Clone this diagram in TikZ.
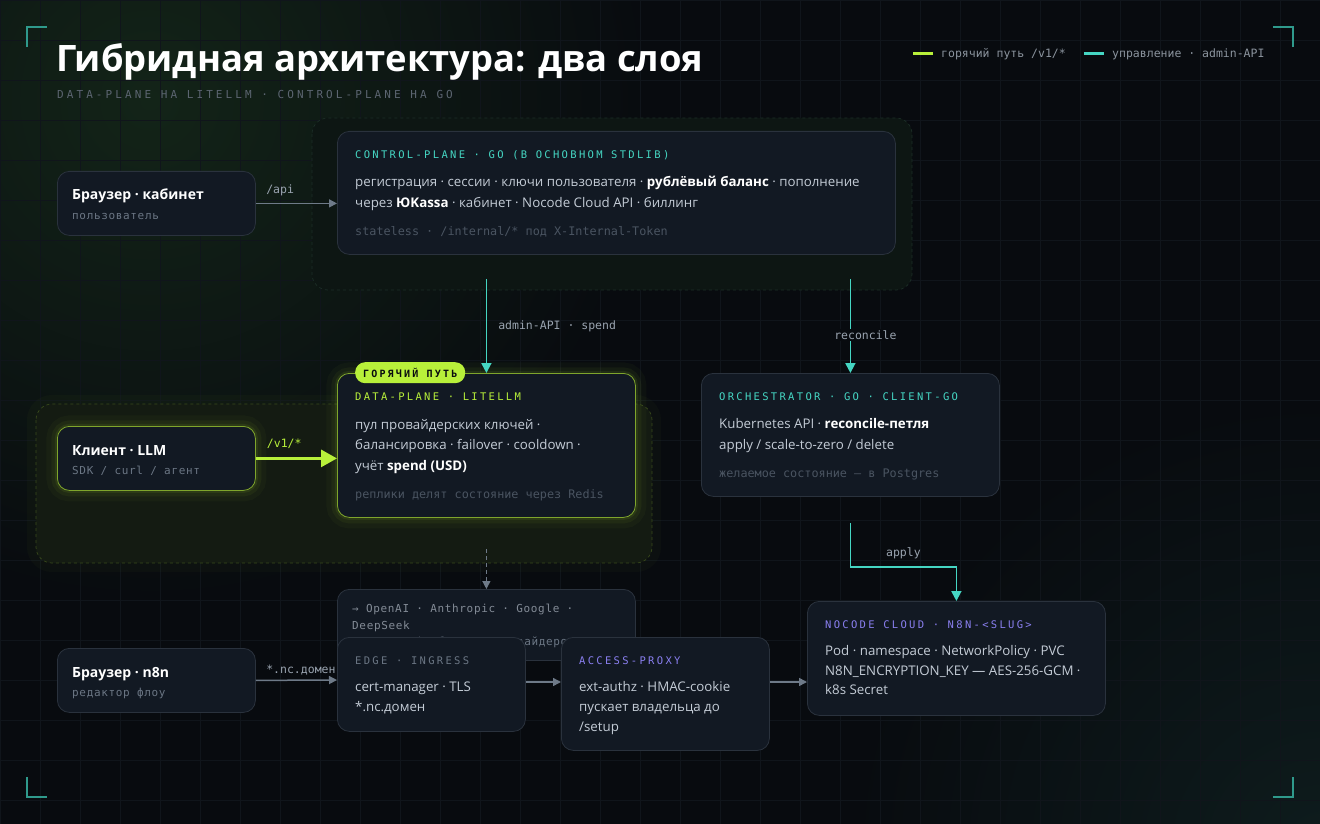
\documentclass[tikz,border=0pt]{standalone}
\usepackage{fontspec}
\setmainfont{Open Sans}
\newfontfamily\monof{DejaVu Sans Mono}
\newfontfamily\monotr{DejaVu Sans Mono}[LetterSpace=22]
\newfontfamily\monosub{DejaVu Sans Mono}[LetterSpace=28]
\newfontfamily\monowide{DejaVu Sans Mono}[LetterSpace=6]
\usetikzlibrary{arrows.meta,calc,positioning}

\definecolor{bgc}{HTML}{080B0F}
\definecolor{gridc}{HTML}{10151B}
\definecolor{glowa}{HTML}{132418}
\definecolor{glowb}{HTML}{0E1C1D}
\definecolor{boxfill}{HTML}{121923}
\definecolor{boxline}{HTML}{2A323D}
\definecolor{tealc}{HTML}{45D6C3}
\definecolor{tealdim}{HTML}{2F9A8C}
\definecolor{limec}{HTML}{B8F03A}
\definecolor{limedim}{HTML}{7FA52C}
\definecolor{purp}{HTML}{8A7FF0}
\definecolor{bodyc}{HTML}{C4CCD6}
\definecolor{mutec}{HTML}{6B7684}
\definecolor{faintc}{HTML}{4A5461}
\definecolor{lblc}{HTML}{9AA4B0}
\definecolor{arrowc}{HTML}{6E7A88}
\definecolor{cpgrp}{HTML}{0D1613}
\definecolor{cpedge}{HTML}{1C2E27}

\tikzset{
  box/.style={draw=boxline, fill=boxfill, rounded corners=12pt, line width=0.8pt,
    anchor=north west, inner sep=0pt},
  txt/.style={anchor=base west, inner sep=0pt, text=bodyc,
    font=\fontsize{13.3}{16}\selectfont},
  ttl/.style={anchor=base west, inner sep=0pt, text=white,
    font=\fontsize{14}{16}\selectfont\bfseries},
  hdr/.style={anchor=base west, inner sep=0pt, font=\monotr\fontsize{10.5}{12}\selectfont},
  sub/.style={anchor=base west, inner sep=0pt, text=mutec, font=\monowide\fontsize{11}{12}\selectfont},
  note/.style={anchor=base west, inner sep=0pt, text=faintc, font=\monof\fontsize{11.8}{12}\selectfont},
  lbl/.style={inner sep=0pt, text=lblc, font=\monof\fontsize{11.5}{12}\selectfont},
  grp/.style={rounded corners=16pt, dashed, dash pattern=on 3pt off 3pt, line width=0.7pt},
  glow/.style={preaction={draw=#1, line width=22pt, draw opacity=0.03},
    preaction={draw=#1, line width=12pt, draw opacity=0.05},
    preaction={draw=#1, line width=5pt, draw opacity=0.08}},
  flow/.style={draw=arrowc, line width=1.5pt, -{Triangle[length=8pt,width=8pt]}},
  ctl/.style={draw=tealc, line width=1.8pt, -{Triangle[length=10pt,width=10pt]}},
  hot/.style={draw=limec, line width=3pt, -{Triangle[length=16pt,width=17pt]}},
  corner/.style={draw=tealdim, line width=1.5pt},
}

\begin{document}
\begin{tikzpicture}[x=1pt,y=-1pt]
\useasboundingbox (0,0) rectangle (1320,824);
% background
\fill[bgc] (0,0) rectangle (1320,824);
\begin{scope}
\clip (0,0) rectangle (1320,824);
\shade[inner color=glowa, outer color=bgc] (-350,-400) rectangle (650,600);
\shade[inner color=glowb, outer color=bgc] (850,400) rectangle (1800,1300);
\end{scope}
\draw[gridc, line width=0.5pt] (0,0) grid[step=40pt] (1320,824);

% corners
\draw[corner] (27,47) -- (27,27) -- (47,27);
\draw[corner] (1293,47) -- (1293,27) -- (1273,27);
\draw[corner] (27,777) -- (27,797) -- (47,797);
\draw[corner] (1293,777) -- (1293,797) -- (1273,797);

% title
\node[anchor=base west, inner sep=0pt, text=white, font=\fontsize{36.4}{40}\selectfont\bfseries]
  (title) at (56,72) {Гибридная архитектура: два слоя};
\node[anchor=base west, inner sep=0pt, text=faintc!90!white, font=\monosub\fontsize{11}{12}\selectfont]
  (subtitle) at (57,99) {DATA-PLANE НА LITELLM · CONTROL-PLANE НА GO};

% legend
\draw[limec, line width=3pt] (913,54) -- (933,54);
\node[lbl, anchor=west, text=lblc!90!black] (leghot) at (941,54) {горячий путь /v1/*};
\draw[tealc, line width=3pt] (1084,54) -- (1104,54);
\node[lbl, anchor=west, text=lblc!90!black] (legctl) at (1112,54) {управление · admin-API};

% groups
\draw[grp, draw=cpedge, fill=cpgrp] (312,118) rectangle (912,290);
\draw[grp, draw=limedim!40!bgc, fill=limec!7!bgc,
  preaction={draw=limec, line width=18pt, draw opacity=0.025}] (36,404) rectangle (652,563);

% control-plane
\node[box, minimum width=558pt, minimum height=123pt] (cp) at (337,131) {};
\node[hdr, text=tealc] (cphdr) at ($(cp.north west)+(18,28)$) {CONTROL-PLANE · GO (В ОСНОВНОМ STDLIB)};
\node[txt] (cpa) at ($(cp.north west)+(18,55)$)
  {регистрация · сессии · ключи пользователя · \textbf{\color{white}рублёвый баланс} · пополнение};
\node[txt] (cpb) at ($(cp.north west)+(18,76)$)
  {через \textbf{\color{white}ЮKassa} · кабинет · Nocode Cloud API · биллинг};
\node[note] (cpn) at ($(cp.north west)+(18,104)$) {stateless · /internal/* под X-Internal-Token};

% browser: cabinet
\node[box, minimum width=198pt, minimum height=64pt] (bk) at (57,171) {};
\node[ttl] (bkt) at ($(bk.north west)+(15,29)$) {Браузер · кабинет};
\node[sub] (bks) at ($(bk.north west)+(15,48)$) {пользователь};

% data-plane
\node[box, draw=limedim, glow=limec, minimum width=298pt, minimum height=144pt] (dp) at (337,373) {};
\node[anchor=north west, inner sep=0pt, fill=limec, rounded corners=10pt, minimum width=110pt,
  minimum height=21pt, text=bgc, font=\monotr\bfseries\fontsize{10}{12}\selectfont]
  (badge) at (355,362) {ГОРЯЧИЙ ПУТЬ};
\node[hdr, text=limec] (dphdr) at ($(dp.north west)+(18,27)$) {DATA-PLANE · LITELLM};
\node[txt] (dpa) at ($(dp.north west)+(18,56)$) {пул провайдерских ключей ·};
\node[txt] (dpb) at ($(dp.north west)+(18,76)$) {балансировка · failover · cooldown ·};
\node[txt] (dpc) at ($(dp.north west)+(18,97)$) {учёт \textbf{\color{white}spend (USD)}};
\node[note] (dpn) at ($(dp.north west)+(18,125)$) {реплики делят состояние через Redis};

% client
\node[box, draw=limedim, glow=limec, minimum width=198pt, minimum height=64pt] (cl) at (57,426) {};
\node[ttl] (clt) at ($(cl.north west)+(15,29)$) {Клиент · LLM};
\node[sub] (cls) at ($(cl.north west)+(15,48)$) {SDK / curl / агент};

% orchestrator
\node[box, minimum width=298pt, minimum height=123pt] (orch) at (701,373) {};
\node[hdr, text=tealc] (orhdr) at ($(orch.north west)+(18,27)$) {ORCHESTRATOR · GO · CLIENT-GO};
\node[txt] (ora) at ($(orch.north west)+(18,55)$) {Kubernetes API · \textbf{\color{white}reconcile-петля}};
\node[txt] (orb) at ($(orch.north west)+(18,76)$) {apply / scale-to-zero / delete};
\node[note] (orn) at ($(orch.north west)+(18,104)$) {желаемое состояние — в Postgres};

% providers
\node[box, minimum width=298pt, minimum height=71pt] (prov) at (337,589) {};
\node[sub, text=lblc!85!black] (prva) at ($(prov.north west)+(15,23)$) {→ OpenAI · Anthropic · Google ·};
\node[sub, text=lblc!85!black] (prvb) at ($(prov.north west)+(15,40)$) {DeepSeek};
\node[sub] (prvc) at ($(prov.north west)+(15,56)$) {ретраи и фолбэк для провайдеров};

% browser: n8n
\node[box, minimum width=198pt, minimum height=64pt] (bn) at (57,648) {};
\node[ttl] (bnt) at ($(bn.north west)+(15,29)$) {Браузер · n8n};
\node[sub] (bns) at ($(bn.north west)+(15,48)$) {редактор флоу};
\draw[flow] (bn.east) -- (337,680) node[lbl, pos=0.12, anchor=south west, yshift=5pt] {*.nc.домен};

% edge
\node[box, minimum width=188pt, minimum height=94pt] (edge) at (337,637) {};
\node[hdr, text=mutec] (edhdr) at ($(edge.north west)+(18,27)$) {EDGE · INGRESS};
\node[txt] (eda) at ($(edge.north west)+(18,54)$) {cert-manager · TLS};
\node[txt] (edb) at ($(edge.north west)+(18,74)$) {*.nc.домен};

% access-proxy
\node[box, minimum width=208pt, minimum height=113pt] (ap) at (561,637) {};
\node[hdr, text=purp] (aphdr) at ($(ap.north west)+(18,27)$) {ACCESS-PROXY};
\node[txt] (apa) at ($(ap.north west)+(18,54)$) {ext-authz · HMAC-cookie};
\node[txt] (apb) at ($(ap.north west)+(18,74)$) {пускает владельца до};
\node[txt] (apc) at ($(ap.north west)+(18,94)$) {/setup};

% nocode cloud
\node[box, minimum width=298pt, minimum height=114pt] (nc) at (807,601) {};
\node[hdr, text=purp] (nchdr) at ($(nc.north west)+(18,27)$) {NOCODE CLOUD · N8N-<SLUG>};
\node[txt] (nca) at ($(nc.north west)+(18,54)$) {Pod · namespace · NetworkPolicy · PVC};
\node[txt] (ncb) at ($(nc.north west)+(18,74)$) {N8N\_ENCRYPTION\_KEY — AES-256-GCM ·};
\node[txt] (ncc) at ($(nc.north west)+(18,93)$) {k8s Secret};

% connectors
\draw[flow] (bk.east) -- (bk.east -| cp.west) node[lbl, pos=0.3, above=7pt] {/api};
\draw[hot] (cl.east) -- (cl.east -| dp.west) node[lbl, text=limec, pos=0.35, above=8pt] {/v1/*};
\draw[ctl] ([yshift=-24pt]dp.north |- cp.south) -- (dp.north)
  node[lbl, midway, right=11pt] {admin-API · spend};
\draw[ctl] ([yshift=-24pt]orch.north |- cp.south) -- (orch.north)
  node[lbl, pos=0.6, fill=bgc, inner sep=1.5pt, xshift=15pt] {reconcile};
\draw[ctl] ([yshift=-26pt]orch.south) -- ++(0,44) -| (nc.north)
  node[lbl, pos=0.25, above=7pt] {apply};
\draw[flow, line width=1.2pt, dashed, dash pattern=on 4pt off 3pt] ([yshift=-31pt]dp.south) -- (prov.north);
\draw[flow] (edge.east |- 0,682) -- (ap.west |- 0,682);
\draw[flow] (ap.east |- 0,682) -- (nc.west |- 0,682);
\end{tikzpicture}
\end{document}
